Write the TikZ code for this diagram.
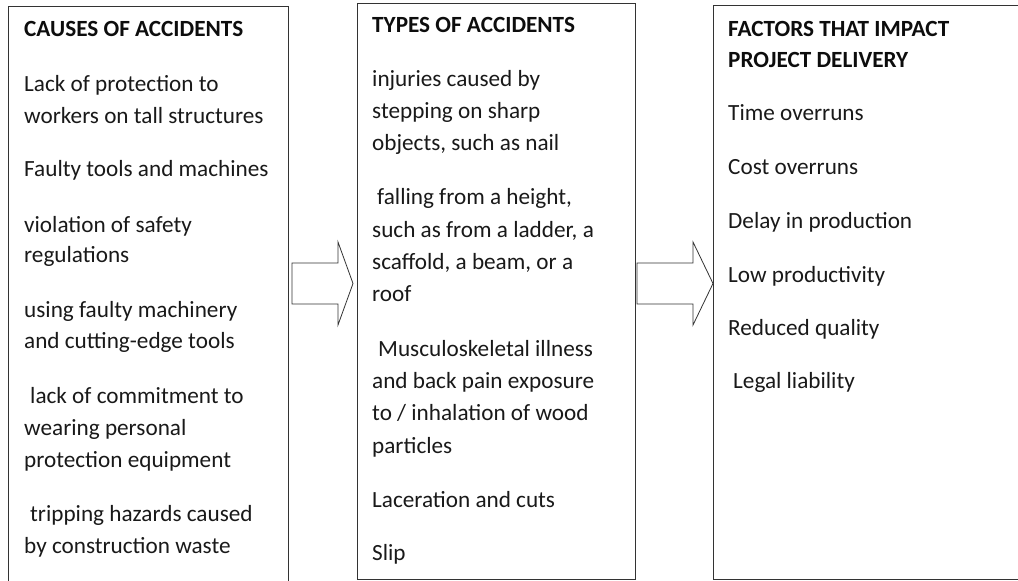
\documentclass[tikz,border=0pt]{standalone}
\usepackage{fontspec}
\setmainfont{Carlito}
\begin{document}
\begin{tikzpicture}[x=1pt,y=-1pt,
  frame/.style={draw=black!80, line width=0.9pt},
  txt/.style={anchor=base west, inner sep=0pt, font=\fontsize{23.2}{28}\selectfont, text=black!90},
  head/.style={anchor=base west, inner sep=0pt, font=\fontsize{23.2}{28}\selectfont\bfseries, text=black!95},
  blockarrow/.style={draw=black!80, line width=0.8pt, fill=white, line join=miter}]
\useasboundingbox (0,0) rectangle (1018,581);
% frames
\draw[frame] (8,581) -- (8,6) -- (288,6) -- (288,581);
\draw[frame] (357,3) rectangle (635,579);
\draw[frame] (1018,5) -- (713,5) -- (713,579) -- (1018,579);
% block arrows
\draw[blockarrow] (292,263) -- (338,263) -- (338,242) -- (353,283.5) -- (338,325) -- (338,304) -- (292,304) -- cycle;
\draw[blockarrow] (637,263) -- (693,263) -- (693,242) -- (713,283.5) -- (693,325) -- (693,304) -- (637,304) -- cycle;
% box 1
\node[head] (h1) at (24,36) {CAUSES OF ACCIDENTS};
\node[txt] (a1) at (24,91) {Lack of protection to};
\node[txt] (a2) at (24,123) {workers on tall structures};
\node[txt] (a3) at (24,176) {Faulty tools and machines};
\node[txt] (a4) at (24,232) {violation of safety};
\node[txt] (a5) at (24,262) {regulations};
\node[txt] (a6) at (24,317) {using faulty machinery};
\node[txt] (a7) at (24,348) {and cutting-edge tools};
\node[txt] (a8) at (30,403) {lack of commitment to};
\node[txt] (a9) at (24,435) {wearing personal};
\node[txt] (a10) at (24,467) {protection equipment};
\node[txt] (a11) at (30,521) {tripping hazards caused};
\node[txt] (a12) at (24,553) {by construction waste};
% box 2
\node[head] (h2) at (372,32) {TYPES OF ACCIDENTS};
\node[txt] (b1) at (372,86) {injuries caused by};
\node[txt] (b2) at (372,118) {stepping on sharp};
\node[txt] (b3) at (372,150) {objects, such as nail};
\node[txt] (b4) at (377,204) {falling from a height,};
\node[txt] (b5) at (372,237) {such as from a ladder, a};
\node[txt] (b6) at (372,269) {scaffold, a beam, or a};
\node[txt] (b7) at (372,301) {roof};
\node[txt] (b8) at (378,356) {Musculoskeletal illness};
\node[txt] (b9) at (372,388) {and back pain exposure};
\node[txt] (b10) at (372,420) {to / inhalation of wood};
\node[txt] (b11) at (372,453) {particles};
\node[txt] (b12) at (372,507) {Laceration and cuts};
\node[txt] (b13) at (372,560) {Slip};
% box 3
\node[head] (h3) at (728,36) {FACTORS THAT IMPACT};
\node[head] (h4) at (728,67) {PROJECT DELIVERY};
\node[txt] (c1) at (728,120) {Time overruns};
\node[txt] (c2) at (728,174) {Cost overruns};
\node[txt] (c3) at (728,228) {Delay in production};
\node[txt] (c4) at (728,282) {Low productivity};
\node[txt] (c5) at (728,335) {Reduced quality};
\node[txt] (c6) at (733,388) {Legal liability};
\end{tikzpicture}
\end{document}
